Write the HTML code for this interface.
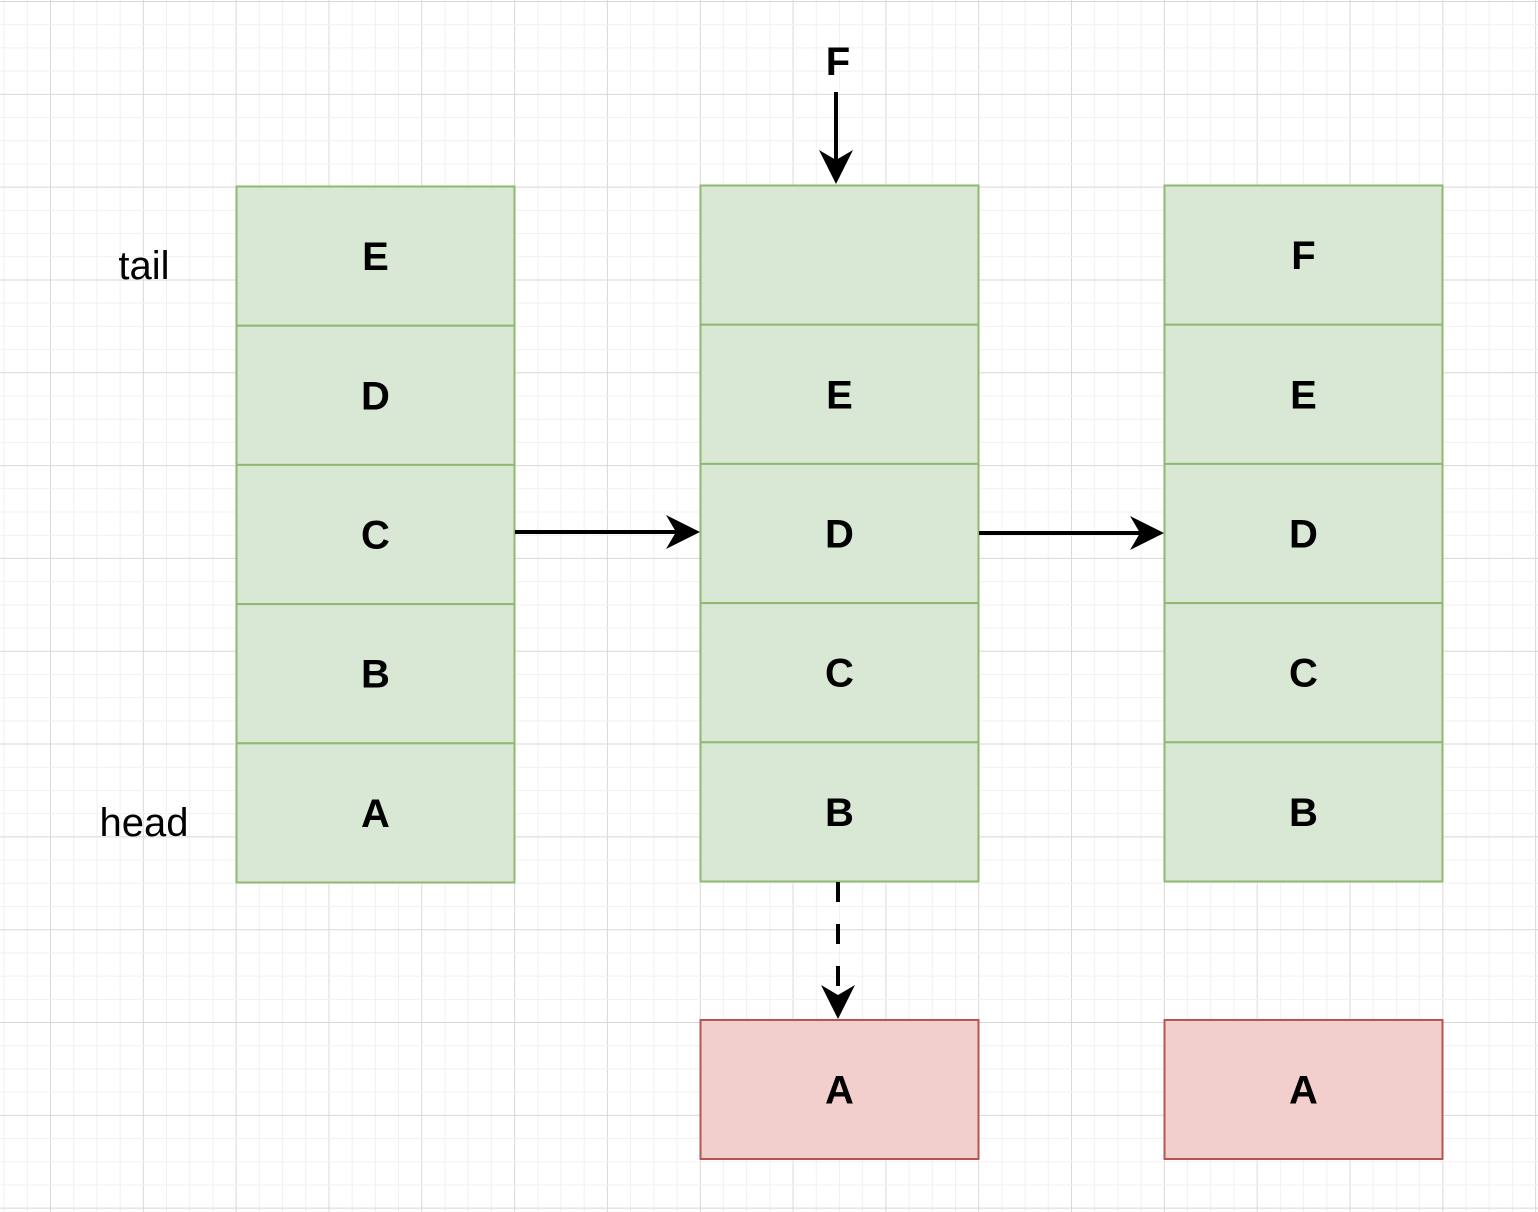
<!DOCTYPE html>
<html><head><meta charset="utf-8"><style>
html,body{margin:0;padding:0;background:#fff;}
svg{display:block;font-family:"Liberation Sans",Arial,sans-serif;}
</style></head><body>
<svg id="c" width="1538" height="1212" viewBox="0 0 1538 1212">
<g id="grid"></g>
<g id="boxes"></g>
<g>
<text x="144" y="279" font-size="40" text-anchor="middle">tail</text>
<text x="144" y="836" font-size="40" text-anchor="middle">head</text>
<text x="838" y="75" font-size="40" font-weight="bold" text-anchor="middle">F</text>
</g>
<g stroke="#000" stroke-width="4" fill="none">
<line x1="836" y1="92" x2="836" y2="168"/>
<line x1="515" y1="532" x2="684" y2="532"/>
<line x1="979" y1="533" x2="1148" y2="533"/>
<line x1="838" y1="882" x2="838" y2="1000" stroke-dasharray="20,22"/>
</g>
<g fill="#000">
<path d="M836 184 L819 150 L836 160 L853 150 Z"/>
<path d="M700 532 L666 515 L676 532 L666 549 Z"/>
<path d="M1164 533 L1130 516 L1140 533 L1130 550 Z"/>
<path d="M838 1019 L821 985 L838 995 L855 985 Z"/>
</g>
</svg>
<script>
const NS="http://www.w3.org/2000/svg";
const grid=document.getElementById('grid');
const step=92.82/4;
for(let i=-3;i<70;i++){
  const x=50.5+i*step;
  if(x<0||x>1538) continue;
  const major=(i%4===0);
  const l=document.createElementNS(NS,'line');
  
  
  l.setAttribute('x1',x);l.setAttribute('x2',x);l.setAttribute('y1',0);l.setAttribute('y2',1212);
  l.setAttribute('stroke',major?'#d8d8d8':'#f1f1f1');l.setAttribute('stroke-width',1);
  grid.appendChild(l);
}
for(let i=0;i<60;i++){
  const y=1.5+i*step;
  if(y>1212) continue;
  const major=(i%4===0);
  const l=document.createElementNS(NS,'line');
  
  
  l.setAttribute('y1',y);l.setAttribute('y2',y);l.setAttribute('x1',0);l.setAttribute('x2',1538);
  l.setAttribute('stroke',major?'#d8d8d8':'#f1f1f1');l.setAttribute('stroke-width',1);
  grid.appendChild(l);
}
const col1=["E","D","C","B","A"];
const col2=["","E","D","C","B"];
const col3=["F","E","D","C","B"];
const boxes=document.getElementById('boxes');
function box(x,y,w,h,fill,stroke,label,name){
  const r=document.createElementNS(NS,'rect');
  
  
  r.setAttribute('x',x);r.setAttribute('y',y);r.setAttribute('width',w);r.setAttribute('height',h);
  r.setAttribute('fill',fill);r.setAttribute('stroke',stroke);r.setAttribute('stroke-width',2);
  boxes.appendChild(r);
  if(label){
    const t=document.createElementNS(NS,'text');
    
    
    t.setAttribute('x',x+w/2);t.setAttribute('y',y+h/2+14);
    t.setAttribute('text-anchor','middle');t.setAttribute('font-size','40');t.setAttribute('font-weight','bold');
    t.textContent=label;boxes.appendChild(t);
  }
}
const cols=[[236.5,186.5,col1],[700.5,185.5,col2],[1164.5,185.5,col3]];
cols.forEach((c,ci)=>{
  c[2].forEach((v,i)=>box(c[0],c[1]+i*139.2,278,139.2,'#d9e8d5','#8fb96e',v,'cell-'+(ci+1)+'-'+i));
});
box(700.5,1020,278,139,'#f2cfcd','#b85450','A','removed-a-1');
box(1164.5,1020,278,139,'#f2cfcd','#b85450','A','removed-a-2');
</script>
</body></html>
